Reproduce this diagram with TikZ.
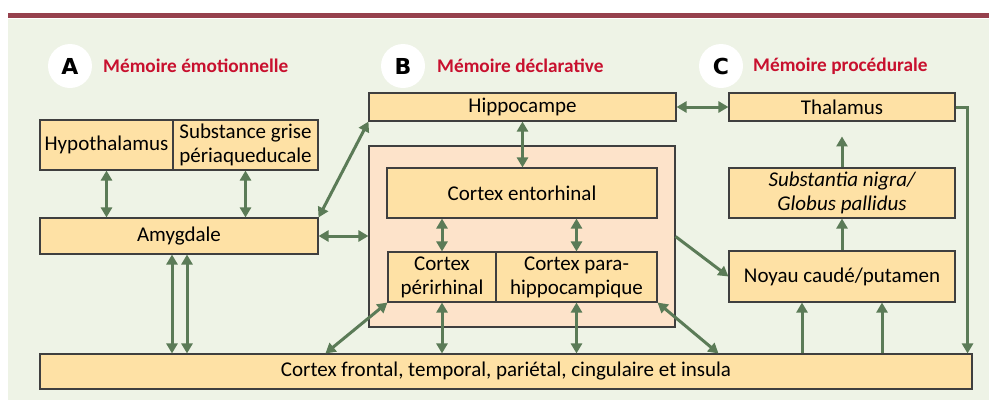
\documentclass[tikz,border=0pt]{standalone}
\usepackage{fontspec}
\setmainfont{Carlito}
\newfontfamily\letterfont{DejaVu Sans}
\usetikzlibrary{arrows.meta,calc}
\definecolor{bgc}{HTML}{EEF3E6}
\definecolor{rulec}{HTML}{96414D}
\definecolor{boxc}{HTML}{FEE1A5}
\definecolor{pinkc}{HTML}{FDE3CA}
\definecolor{arrc}{HTML}{5B7B57}
\definecolor{redc}{HTML}{C8102E}
\definecolor{bord}{HTML}{3F3F3F}
\begin{document}
\begin{tikzpicture}[x=1pt,y=-1pt,
  box/.style={draw=bord,line width=1.1pt,fill=boxc,inner sep=0pt,align=center,font=\fontsize{21}{24}\selectfont},
  cont/.style={draw=bord,line width=1.1pt,fill=pinkc,inner sep=0pt},
  biarrow/.style={draw=arrc,line width=3pt,{Triangle[length=10pt,width=11pt]}-{Triangle[length=10pt,width=11pt]}},
  uarrow/.style={draw=arrc,line width=3pt,-{Triangle[length=10pt,width=11pt]}},
  letter/.style={circle,fill=white,minimum size=44pt,inner sep=0pt,font=\letterfont\bfseries\fontsize{22}{22}\selectfont},
  ttl/.style={anchor=west,inner sep=0pt,text=redc,font=\bfseries\fontsize{19.3}{19.3}\selectfont}
]
\useasboundingbox (0,0) rectangle (989,405);
\fill[rulec] (8,12.5) rectangle (989,17.5);
\fill[bgc] (8,19) rectangle (989,400);

% titles
\node[letter] (cA) at (70,66) {A};
\node[ttl] (tA) at (103,66) {Mémoire émotionnelle};
\node[letter] (cB) at (403,66) {B};
\node[ttl] (tB) at (437,66) {Mémoire déclarative};
\node[letter] (cC) at (721,66) {C};
\node[ttl] (tC) at (753,66) {Mémoire procédurale};

% boxes
\node[cont,minimum width=306pt,minimum height=181pt] (pink) at (522,236.5) {};
\node[box,minimum width=307pt,minimum height=28pt] (hip) at (522.5,107) {Hippocampe};
\node[box,minimum width=226pt,minimum height=28pt] (thal) at (842,107) {Thalamus};
\node[box,minimum width=133pt,minimum height=50pt] (hyp) at (106.5,145) {Hypothalamus};
\node[box,minimum width=145pt,minimum height=50pt] (sgp) at (245.5,145) {Substance grise\\périaqueducale};
\node[box,minimum width=278pt,minimum height=36pt] (amy) at (179,236) {Amygdale};
\node[box,minimum width=270pt,minimum height=50pt] (ento) at (522,193) {Cortex entorhinal};
\node[box,minimum width=108pt,minimum height=50pt] (peri) at (442,277) {Cortex\\périrhinal};
\node[box,minimum width=161pt,minimum height=50pt] (para) at (576.5,277) {Cortex para-\\hippocampique};
\node[box,minimum width=226pt,minimum height=50pt] (subn) at (842,193) {\itshape Substantia nigra/\\\itshape Globus pallidus};
\node[box,minimum width=226pt,minimum height=51pt] (noy) at (842,276.5) {Noyau caudé/putamen};
\node[box,minimum width=932pt,minimum height=35pt] (ctx) at (506,371.5) {Cortex frontal, temporal, pariétal, cingulaire et insula};

% helper coordinates
\coordinate (a1) at ([xshift=-7pt]amy.south);
\coordinate (a2) at ([xshift=8pt]amy.south);
\coordinate (dl) at ($(ctx.north west)+(286,0)$);
\coordinate (dr) at ($(ctx.north west)+(679,0)$);
\coordinate (n1) at ([xshift=-40pt]noy.south);
\coordinate (n2) at ([xshift=40pt]noy.south);
\coordinate (thtip) at ($(subn.north)+(0,-31)$);
\coordinate (tcorner) at ([xshift=12pt]thal.east);

% connectors
\draw[biarrow] (hyp.south) -- (hyp.south |- amy.north);
\draw[biarrow] (sgp.south) -- (sgp.south |- amy.north);
\draw[biarrow] (a1) -- (a1 |- ctx.north);
\draw[biarrow] (a2) -- (a2 |- ctx.north);
\draw[biarrow] (amy.north east) -- (hip.south west);
\draw[biarrow] (amy.east) -- (amy.east -| pink.west);
\draw[biarrow] (hip.south) -- (hip.south |- ento.north);
\draw[biarrow] (hip.east) -- (thal.west);
\draw[biarrow] (peri.north) -- (peri.north |- ento.south);
\draw[biarrow] (para.north) -- (para.north |- ento.south);
\draw[biarrow] (peri.south) -- (peri.south |- ctx.north);
\draw[biarrow] (para.south) -- (para.south |- ctx.north);
\draw[biarrow] (dl) -- (peri.south west);
\draw[biarrow] (dr) -- (para.south east);
\draw[uarrow] (pink.east) -- (noy.west);
\draw[uarrow] (noy.north) -- (subn.south);
\draw[uarrow] (subn.north) -- (thtip);
\draw[uarrow] (n1 |- ctx.north) -- (n1);
\draw[uarrow] (n2 |- ctx.north) -- (n2);
\draw[uarrow] (thal.east) -| (tcorner |- ctx.north);
\end{tikzpicture}
\end{document}
